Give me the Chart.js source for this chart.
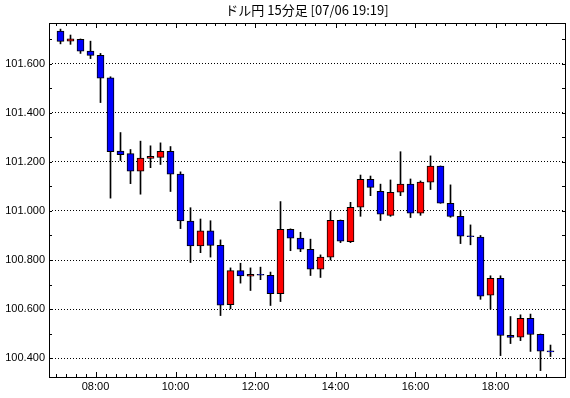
<!DOCTYPE html>
<html lang="ja">
<head>
  <meta charset="UTF-8">
  <title>ドル円 15分足</title>
  <style>
    body { margin: 0; background: #fff; }
    canvas { display: block; }
  </style>
</head>
<body>
  <canvas id="grafico" width="570" height="398"></canvas>

  <script src="https://cdn.jsdelivr.net/npm/chart.js"></script>
  <script>
    // 15分足 (07:00 - 19:15)
    const times = [
      '07:00','07:15','07:30','07:45','08:00','08:15','08:30','08:45',
      '09:00','09:15','09:30','09:45','10:00','10:15','10:30','10:45',
      '11:00','11:15','11:30','11:45','12:00','12:15','12:30','12:45',
      '13:00','13:15','13:30','13:45','14:00','14:15','14:30','14:45',
      '15:00','15:15','15:30','15:45','16:00','16:15','16:30','16:45',
      '17:00','17:15','17:30','17:45','18:00','18:15','18:30','18:45',
      '19:00','19:15'
    ];
    const opens = [
      101.732, 101.691, 101.698, 101.651, 101.633, 101.542, 101.244, 101.233,
      101.162, 101.214, 101.218, 101.243, 101.150, 100.959, 100.857, 100.919,
      100.860, 100.618, 100.757, 100.734, 100.742, 100.738, 100.663, 100.925,
      100.889, 100.844, 100.763, 100.812, 100.962, 100.875, 101.015, 101.129,
      101.080, 100.982, 101.076, 101.109, 100.991, 101.117, 101.182, 101.031,
      100.978, 100.899, 100.893, 100.657, 100.726, 100.494, 100.486, 100.563,
      100.498, 100.430
    ];
    const highs = [
      101.740, 101.716, 101.700, 101.691, 101.641, 101.546, 101.319, 101.250,
      101.284, 101.265, 101.277, 101.262, 101.159, 101.013, 100.967, 100.960,
      100.882, 100.768, 100.787, 100.768, 100.771, 100.751, 101.038, 100.927,
      100.913, 100.885, 100.821, 100.999, 100.963, 101.035, 101.146, 101.142,
      101.109, 101.126, 101.241, 101.130, 101.122, 101.224, 101.183, 101.106,
      100.999, 100.943, 100.900, 100.736, 100.736, 100.570, 100.577, 100.580,
      100.499, 100.454
    ];
    const lows = [
      101.680, 101.678, 101.641, 101.620, 101.441, 101.052, 101.205, 101.111,
      101.068, 101.176, 101.189, 101.079, 100.928, 100.790, 100.830, 100.812,
      100.574, 100.601, 100.706, 100.676, 100.720, 100.615, 100.631, 100.838,
      100.834, 100.737, 100.729, 100.800, 100.871, 100.871, 100.978, 101.062,
      100.961, 100.978, 101.062, 100.973, 100.982, 101.087, 101.031, 100.974,
      100.867, 100.862, 100.640, 100.600, 100.411, 100.460, 100.472, 100.428,
      100.350, 100.407
    ];
    const closes = [
      101.690, 101.700, 101.650, 101.633, 101.540, 101.241, 101.229, 101.162,
      101.215, 101.222, 101.243, 101.150, 100.959, 100.857, 100.919, 100.860,
      100.616, 100.757, 100.735, 100.742, 100.738, 100.663, 100.925, 100.889,
      100.844, 100.763, 100.812, 100.962, 100.877, 101.015, 101.129, 101.096,
      100.987, 101.076, 101.109, 100.991, 101.117, 101.182, 101.031, 100.978,
      100.897, 100.895, 100.653, 100.726, 100.493, 100.485, 100.563, 100.497,
      100.429, 100.426
    ];

    // 目盛り
    const yTickLabels = [100.4, 100.6, 100.8, 101.0, 101.2, 101.4, 101.6];
    const yMinorTicks = [100.4, 100.5, 100.6, 100.7, 100.8, 100.9, 101.0, 101.1, 101.2, 101.3, 101.4, 101.5, 101.6, 101.7];
    const xTickLabels = ['08:00', '10:00', '12:00', '14:00', '16:00', '18:00'];
    const xTickPositions = xTickLabels.map(t => times.indexOf(t) - 0.5);

    const cuerpos = times.map((t, i) => ({ x: i, y: [opens[i], closes[i]] }));
    const mechas = times.map((t, i) => ({ x: i, y: [lows[i], highs[i]] }));
    const colores = times.map((t, i) => closes[i] >= opens[i] ? '#ff0000' : '#0000ff');

    // 枠と内向きの目盛り線
    const marcas = {
      id: 'marcas',
      afterDraw(chart) {
        const { ctx, chartArea: a, scales: { x, y } } = chart;
        ctx.save();
        ctx.strokeStyle = '#000';
        ctx.lineWidth = 1;
        ctx.beginPath();
        for (let i = 0; i < times.length; i++) {
          const px = Math.round(x.getPixelForValue(i - 0.5)) + 0.5;
          const len = xTickLabels.includes(times[i]) ? 5 : 3;
          ctx.moveTo(px, a.bottom); ctx.lineTo(px, a.bottom - len);
          ctx.moveTo(px, a.top); ctx.lineTo(px, a.top + len);
        }
        yMinorTicks.forEach(v => {
          const py = Math.round(y.getPixelForValue(v)) + 0.5;
          ctx.moveTo(a.left, py); ctx.lineTo(a.left + 3, py);
          ctx.moveTo(a.right, py); ctx.lineTo(a.right - 3, py);
        });
        ctx.stroke();
        ctx.strokeRect(a.left + 0.5, a.top + 0.5, a.right - a.left, a.bottom - a.top);
        ctx.restore();
      }
    };

    const fuente = { family: "'Liberation Sans', Arial, sans-serif", size: 11 };

    new Chart(document.getElementById('grafico'), {
      type: 'bar',
      data: {
        datasets: [
          { data: mechas, backgroundColor: '#000', borderWidth: 0, barThickness: 1, grouped: false, order: 2 },
          { data: cuerpos, backgroundColor: colores, borderColor: '#000', borderWidth: 1,
            borderSkipped: false, barThickness: 7, grouped: false, order: 1 }
        ]
      },
      options: {
        responsive: false,
        animation: false,
        layout: { padding: { left: 0, right: 5, top: 0, bottom: 0 } },
        plugins: {
          legend: { display: false },
          tooltip: { enabled: false },
          title: {
            display: true,
            text: 'ドル円 15分足 [07/06 19:19]',
            fullSize: false,
            color: '#000',
            font: { family: "'Noto Sans CJK JP', sans-serif", size: 13, weight: 'normal', lineHeight: 1 },
            padding: { top: 4, bottom: 6 }
          }
        },
        scales: {
          x: {
            type: 'linear',
            min: -1.15,
            max: 50.45,
            offset: false,
            grid: { display: false, drawTicks: false },
            border: { display: false },
            afterBuildTicks: s => { s.ticks = xTickPositions.map(v => ({ value: v })); },
            ticks: {
              callback: (v, i) => xTickLabels[i],
              color: '#000', font: fuente, padding: 3,
              maxRotation: 0, autoSkip: false
            },
            afterFit: s => { s.height = 21; }
          },
          y: {
            min: 100.3239,
            max: 101.7649,
            grid: { color: '#000', drawTicks: false },
            border: { display: false, dash: [1, 2] },
            afterBuildTicks: s => { s.ticks = yTickLabels.map(v => ({ value: v })); },
            ticks: {
              callback: v => v.toFixed(3),
              color: '#000', font: fuente, padding: 4
            },
            afterFit: s => { s.width = 49; }
          }
        }
      },
      plugins: [marcas]
    });
  </script>
</body>
</html>
